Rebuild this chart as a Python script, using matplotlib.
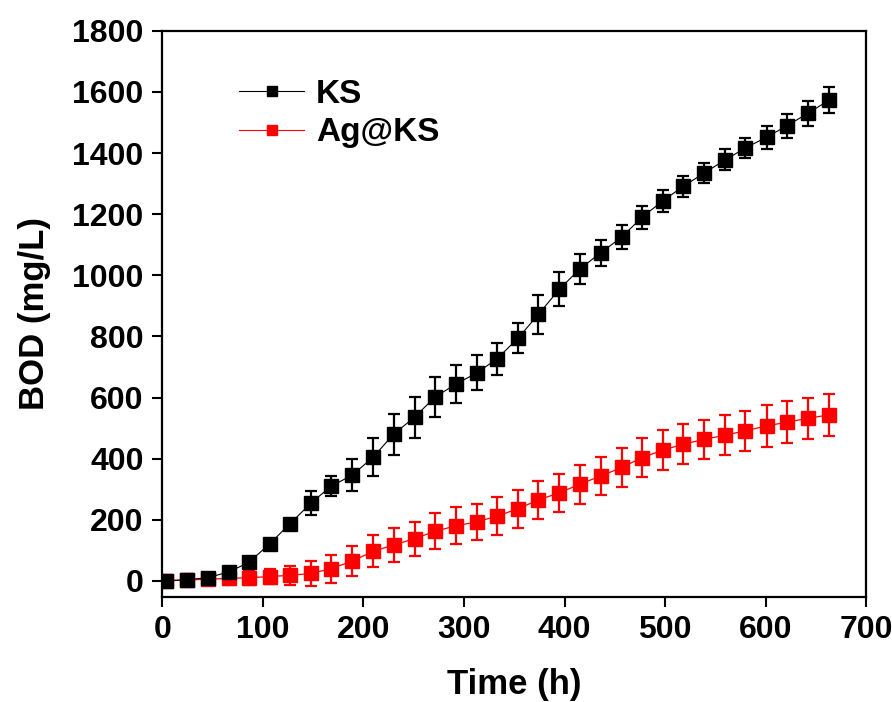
import matplotlib
matplotlib.use("Agg")
import matplotlib.pyplot as plt
from matplotlib.lines import Line2D

plt.rcParams['font.family'] = ['Liberation Sans', 'DejaVu Sans']
plt.rcParams['font.weight'] = 'bold'

time_h = [4, 25, 45, 66, 86, 107, 127, 148, 168, 189, 210, 230, 251, 271, 292, 313,
          333, 354, 374, 395, 415, 436, 457, 477, 498, 518, 539, 560, 580, 601, 621, 642, 663]

ks = [0, 4, 10, 29, 60, 122, 187, 255, 310, 346, 406, 480, 536, 601, 644, 681,
      727, 795, 872, 955, 1020, 1074, 1125, 1190, 1244, 1291, 1335, 1378, 1417, 1452, 1489, 1530, 1573]
ks_err = [15, 6, 12, 15, 10, 12, 12, 40, 33, 52, 63, 67, 67, 65, 61, 57,
          52, 49, 64, 56, 50, 43, 40, 38, 36, 34, 33, 34, 34, 38, 40, 42, 43]

agks = [0, 3, 5, 8, 10, 14, 18, 24, 40, 65, 97, 117, 138, 162, 180, 193,
        212, 236, 265, 288, 316, 343, 371, 403, 428, 447, 463, 477, 491, 507, 519, 532, 543]
agks_err = [20, 19, 20, 22, 25, 25, 32, 42, 46, 50, 52, 55, 56, 59, 60, 60,
            62, 62, 63, 63, 63, 63, 64, 64, 65, 65, 65, 65, 66, 68, 68, 68, 69]

series_labels = ["KS", "Ag@KS"]
x_ticks = [0, 100, 200, 300, 400, 500, 600, 700]
y_ticks = [0, 200, 400, 600, 800, 1000, 1200, 1400, 1600, 1800]

fig = plt.figure(figsize=(8.92, 7.02), dpi=100)
ax = fig.add_axes([0.182, 0.150, 0.789, 0.806])

ax.errorbar(time_h, agks, yerr=agks_err, color='#ff0000', marker='s', markersize=9.5,
            linewidth=0.9, elinewidth=1.6, capsize=4.5, capthick=1.6, zorder=2)
ax.errorbar(time_h, ks, yerr=ks_err, color='black', marker='s', markersize=9.5,
            linewidth=0.8, elinewidth=1.6, capsize=4.5, capthick=1.6, zorder=3)

ax.set_xlim(0, 700)
ax.set_ylim(-52, 1800)
ax.set_xticks(x_ticks)
ax.set_yticks(y_ticks)
ax.tick_params(axis='both', direction='out', length=7.5, width=1.5, labelsize=23)
ax.tick_params(axis='x', pad=6)
ax.tick_params(axis='y', pad=6)
for lab in ax.get_xticklabels() + ax.get_yticklabels():
    lab.set_fontweight('bold')
for sp in ax.spines.values():
    sp.set_linewidth(1.6)

ax.set_xlabel("Time (h)", fontsize=25, fontweight='bold', labelpad=16)
ax.set_ylabel("BOD (mg/L)", fontsize=25, fontweight='bold', labelpad=15)

leg_handles = [
    Line2D([0], [0], color='black', linewidth=0.8, marker='s', markersize=7),
    Line2D([0], [0], color='#ff0000', linewidth=0.8, marker='s', markersize=7),
]
leg = ax.legend(leg_handles, series_labels, loc='upper left', bbox_to_anchor=(0.109, 0.915),
                frameon=False, fontsize=24, handlelength=1.95, handletextpad=0.35,
                labelspacing=0.22, borderpad=0, borderaxespad=0)
for txt in leg.get_texts():
    txt.set_fontweight('bold')

fig.savefig("out.png", dpi=100)
